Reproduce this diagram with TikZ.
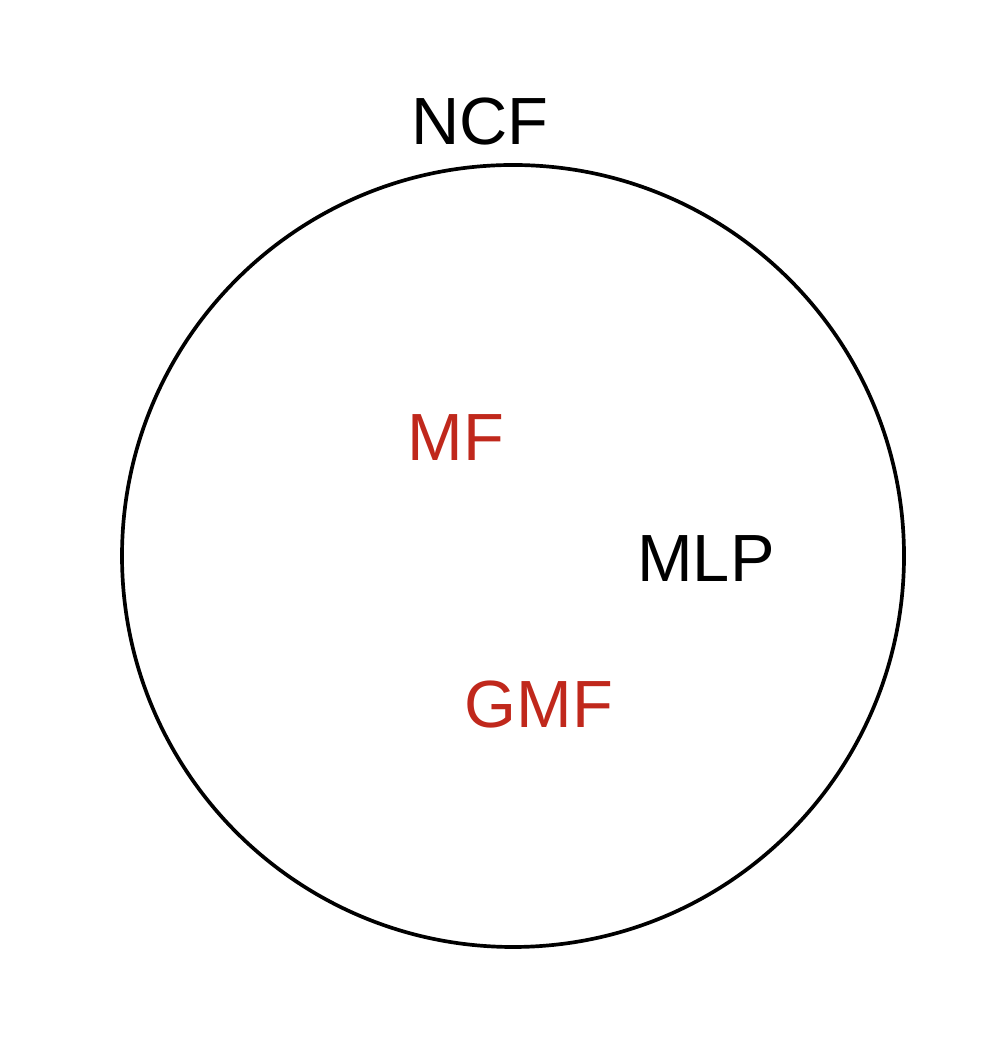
\documentclass[tikz,border=0pt]{standalone}
\usepackage{fontspec}
\setmainfont{Liberation Sans}
\usepackage{tikz}
\definecolor{mfred}{RGB}{192,40,28}

\begin{document}
\begin{tikzpicture}[every node/.style={font=\fontsize{19}{22}\selectfont, inner sep=0pt},
    venn/.style={circle, draw=black, line width=1.05pt, minimum size=7.82cm},
    sub/.style={text=mfred}]
    \useasboundingbox (0,0) rectangle (10,10.4);
    % outer set
    \node[venn] (ncfset) at (5.13,4.84) {};
    \node (ncf) at (4.80,9.18) {NCF};
    % members
    \node[sub] (mf) at (4.56,6.02) {MF};
    \node (mlp) at (7.06,4.81) {MLP};
    \node[sub] (gmf) at (5.39,3.35) {GMF};
\end{tikzpicture}
\end{document}
